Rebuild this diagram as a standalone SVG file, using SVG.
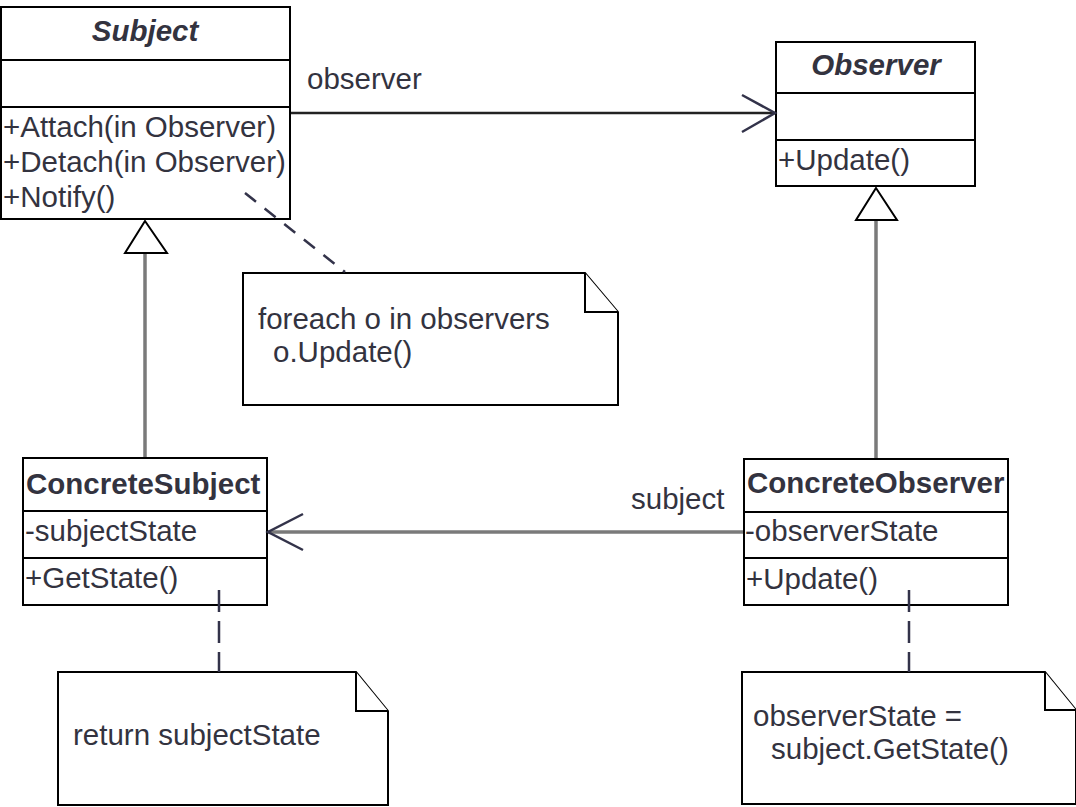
<svg xmlns="http://www.w3.org/2000/svg" width="1076" height="807" viewBox="0 0 1076 807">
<style>
.box{fill:#fff;stroke:#000;stroke-width:2}
.sep{stroke:#000;stroke-width:2}
.t{font-family:"Liberation Sans",Arial,sans-serif;font-size:29.5px;fill:#33333f}
.title{font-weight:bold}
.abs{font-weight:bold;font-style:italic}
.gen{stroke:#7a7a7a;stroke-width:3.5;fill:none}
.tri{fill:#fff;stroke:#000;stroke-width:2}
.assoc{stroke:#222;stroke-width:2.5;fill:none}
.assoc2{stroke:#7a7a7a;stroke-width:3.5;fill:none}
.head{stroke:#33334a;stroke-width:2.5;fill:none}
.dash{stroke:#33334a;stroke-width:2.5;stroke-dasharray:22 9;fill:none}
.note{fill:#fff;stroke:#000;stroke-width:2}
</style>
<rect width="1076" height="807" fill="#fff"/>
<g id="Subject">
  <rect class="box" x="1" y="7" width="289" height="212"/>
  <line class="sep" x1="1" y1="60" x2="290" y2="60"/>
  <line class="sep" x1="1" y1="107" x2="290" y2="107"/>
  <text class="t abs" x="145" y="41" text-anchor="middle">Subject</text>
  <text class="t" x="3" y="137">+Attach(in Observer)</text>
  <text class="t" x="3" y="172">+Detach(in Observer)</text>
  <text class="t" x="3" y="207">+Notify()</text>
</g>
<g id="Observer">
  <rect class="box" x="776" y="42" width="199" height="144"/>
  <line class="sep" x1="776" y1="93" x2="975" y2="93"/>
  <line class="sep" x1="776" y1="140" x2="975" y2="140"/>
  <text class="t abs" x="876" y="75" text-anchor="middle">Observer</text>
  <text class="t" x="778" y="170">+Update()</text>
</g>
<g id="ConcreteSubject">
  <rect class="box" x="23" y="458" width="244" height="147"/>
  <line class="sep" x1="23" y1="511" x2="267" y2="511"/>
  <line class="sep" x1="23" y1="558" x2="267" y2="558"/>
  <text class="t title" x="26" y="494">ConcreteSubject</text>
  <text class="t" x="25" y="541">-subjectState</text>
  <text class="t" x="25" y="588">+GetState()</text>
</g>
<g id="ConcreteObserver">
  <rect class="box" x="744" y="459" width="264" height="146"/>
  <line class="sep" x1="744" y1="512" x2="1008" y2="512"/>
  <line class="sep" x1="744" y1="558" x2="1008" y2="558"/>
  <text class="t title" x="747" y="493">ConcreteObserver</text>
  <text class="t" x="745" y="541">-observerState</text>
  <text class="t" x="746" y="589">+Update()</text>
</g>
<g id="note1">
  <path class="note" d="M243,273 H585 L618,312 V405 H243 Z"/>
  <path class="note" d="M585,273 V312 H618" fill="none"/>
  <text class="t" x="258" y="329">foreach o in observers</text>
  <text class="t" x="273" y="362">o.Update()</text>
</g>
<g id="note2">
  <path class="note" d="M58,672 H356 L388,711 V805 H58 Z"/>
  <path class="note" d="M356,672 V711 H388" fill="none"/>
  <text class="t" x="73" y="745">return subjectState</text>
</g>
<g id="note3">
  <path class="note" d="M742,672 H1045 L1076,710 V804 H742 Z"/>
  <path class="note" d="M1045,672 V710 H1076" fill="none"/>
  <text class="t" x="753" y="726">observerState =</text>
  <text class="t" x="771" y="759">subject.GetState()</text>
</g>
<g id="connectors">
  <line class="assoc" x1="291" y1="113" x2="775" y2="113"/>
  <polyline class="head" points="742,95 775,113 742,132"/>
  <line class="gen" x1="145" y1="253" x2="145" y2="457"/>
  <polygon class="tri" points="145,221 125,253 167,253"/>
  <line class="gen" x1="876" y1="220" x2="876" y2="458"/>
  <polygon class="tri" points="876,188 856,220 897,220"/>
  <line class="assoc2" x1="743" y1="532" x2="268" y2="532"/>
  <polyline class="head" points="303,514 268,532 303,550"/>
  <line class="dash" x1="245" y1="193" x2="345" y2="272" style="stroke-dasharray:14 11"/>
  <line class="dash" x1="219" y1="590" x2="219" y2="672"/>
  <line class="dash" x1="909" y1="590" x2="909" y2="672"/>
  <text class="t" x="307" y="89">observer</text>
  <text class="t" x="631" y="509">subject</text>
</g>
</svg>
